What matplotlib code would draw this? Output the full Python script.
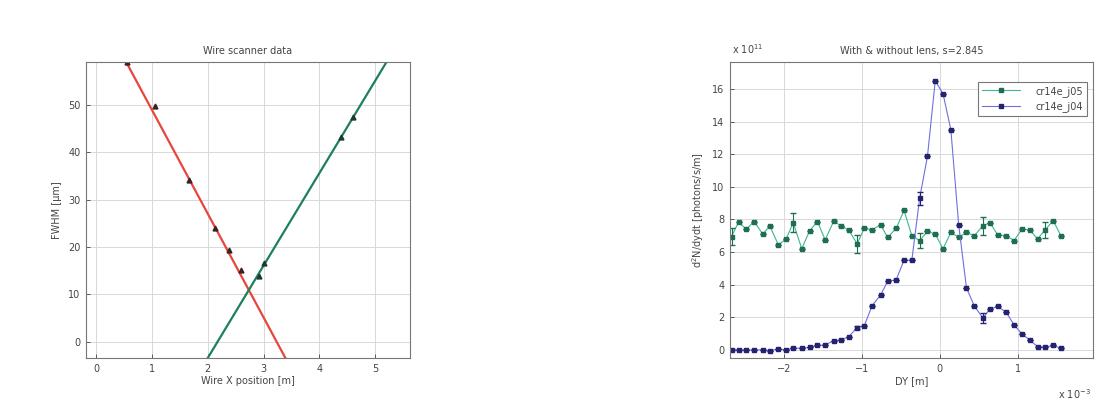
import matplotlib.pyplot as plt

# --- Left panel: wire scanner data ---
red_x = [0.55, 1.05, 1.66, 2.13, 2.38, 2.59]
red_y = [59.0, 49.7, 34.1, 24.0, 19.4, 15.2]
red_fit_x = [0.54, 3.39]
red_fit_y = [59.0, -3.4]

green_x = [2.91, 3.0, 4.38, 4.6]
green_y = [13.9, 16.6, 43.2, 47.4]
green_fit_x = [2.0, 5.2]
green_fit_y = [-3.4, 59.0]

# --- Right panel: with & without lens (x in 1e-3 m, y in 1e11) ---
dy = [-2.67, -2.58, -2.48, -2.38, -2.27, -2.18, -2.07, -1.97, -1.88, -1.77,
      -1.67, -1.57, -1.47, -1.36, -1.27, -1.17, -1.06, -0.97, -0.87, -0.76,
      -0.67, -0.56, -0.46, -0.36, -0.26, -0.16, -0.06, 0.04, 0.14, 0.24,
      0.34, 0.44, 0.55, 0.64, 0.74, 0.85, 0.95, 1.05, 1.15, 1.25,
      1.35, 1.45, 1.55]
j05 = [6.95, 7.83, 7.4, 7.87, 7.1, 7.6, 6.44, 6.8, 7.8, 6.2,
       7.3, 7.87, 6.75, 7.9, 7.6, 7.36, 6.5, 7.45, 7.36, 7.67,
       6.9, 7.45, 8.55, 7.0, 6.7, 7.26, 7.1, 6.2, 7.2, 6.9,
       7.2, 7.0, 7.6, 7.8, 7.05, 7.0, 6.7, 7.4, 7.36, 6.8,
       7.36, 7.93, 7.0]
j05_err = [0.5, 0, 0, 0, 0, 0, 0, 0, 0.6, 0,
           0, 0, 0, 0, 0, 0, 0.55, 0, 0, 0,
           0, 0, 0, 0, 0.45, 0, 0, 0, 0, 0,
           0, 0, 0.55, 0, 0, 0, 0, 0, 0, 0,
           0.5, 0, 0]
j04 = [0.0, 0.0, 0.0, 0.0, 0.0, -0.05, 0.05, 0.0, 0.1, 0.1,
       0.15, 0.27, 0.3, 0.57, 0.6, 0.8, 1.37, 1.47, 2.7, 3.37,
       4.2, 4.3, 5.5, 5.5, 9.3, 11.86, 16.5, 15.7, 13.5, 7.67,
       3.8, 2.7, 1.95, 2.5, 2.66, 2.3, 1.53, 0.98, 0.6, 0.2,
       0.16, 0.27, 0.1]
j04_err = [0, 0, 0, 0, 0, 0, 0, 0, 0, 0,
           0, 0, 0, 0, 0, 0, 0.1, 0, 0, 0,
           0, 0, 0, 0, 0.4, 0, 0, 0, 0, 0,
           0, 0, 0.3, 0, 0, 0, 0, 0, 0, 0,
           0, 0, 0]

txt = "#444444"
plt.rcParams["font.size"] = 7
plt.rcParams["text.color"] = txt
plt.rcParams["axes.labelcolor"] = txt
plt.rcParams["xtick.color"] = txt
plt.rcParams["ytick.color"] = txt

fig = plt.figure(figsize=(11.08, 4.16), dpi=100)

def style(ax):
    ax.grid(True, color="#d9d9d9", linewidth=0.7)
    ax.set_axisbelow(True)
    for s in ax.spines.values():
        s.set_color("#777777")
        s.set_linewidth(0.8)
    ax.tick_params(direction="in", length=3, width=0.6, pad=4, colors=txt)

# left
ax1 = fig.add_axes([0.0776, 0.1394, 0.2924, 0.7115])
ax1.plot(red_fit_x, red_fit_y, color="#e8453c", linewidth=1.6)
ax1.plot(green_fit_x, green_fit_y, color="#1d7f5f", linewidth=1.6)
ax1.plot(red_x, red_y, "^", color="#3a2222", markersize=3.5)
ax1.plot(green_x, green_y, "^", color="#1d3a30", markersize=3.5)
ax1.set_xlim(-0.18, 5.62)
ax1.set_ylim(-3.4, 59)
ax1.set_xticks([0, 1, 2, 3, 4, 5])
ax1.set_yticks([0, 10, 20, 30, 40, 50])
ax1.set_title("Wire scanner data", fontsize=7, pad=6)
ax1.set_xlabel("Wire X position [m]", labelpad=2)
ax1.set_ylabel("FWHM [\u00b5m]", labelpad=4)
style(ax1)

# right
ax2 = fig.add_axes([0.6588, 0.1394, 0.3276, 0.7115])
ax2.plot(dy, j05, color="#3cb88a", linewidth=0.8, marker="s",
         markersize=3.2, markerfacecolor="#1f6e52",
         markeredgecolor="#1f6e52", label="cr14e_j05")
ax2.plot(dy, j04, color="#6f6fe0", linewidth=0.8, marker="s",
         markersize=3.2, markerfacecolor="#23236e",
         markeredgecolor="#23236e", label="cr14e_j04")
ax2.errorbar(dy, j05, yerr=j05_err, fmt="none", ecolor="#1f6e52",
             elinewidth=0.8, capsize=2)
ax2.errorbar(dy, j04, yerr=j04_err, fmt="none", ecolor="#23236e",
             elinewidth=0.8, capsize=2)
ax2.set_xlim(-2.69, 1.96)
ax2.set_ylim(-0.5, 17.65)
ax2.set_xticks([-2, -1, 0, 1])
ax2.set_yticks([0, 2, 4, 6, 8, 10, 12, 14, 16])
ax2.set_title("With & without lens, s=2.845", fontsize=7, pad=6)
ax2.set_xlabel("DY [m]", labelpad=2)
ax2.set_ylabel("d$^2$N/dydt [photons/s/m]", labelpad=4)
ax2.text(0.05, 1.02, r"x $10^{11}$", transform=ax2.transAxes, fontsize=7,
         ha="center", va="bottom")
ax2.text(0.95, -0.1, r"x $10^{-3}$", transform=ax2.transAxes, fontsize=7,
         ha="center", va="top")
style(ax2)
leg = ax2.legend(loc="upper left", bbox_to_anchor=(0.878, 0.815),
                 bbox_transform=fig.transFigure, fancybox=False,
                 edgecolor="#777777", framealpha=1, fontsize=7,
                 handlelength=4, handletextpad=1.5, borderpad=0.4)
leg.get_frame().set_linewidth(0.8)

fig.savefig("out.png", dpi=100)
